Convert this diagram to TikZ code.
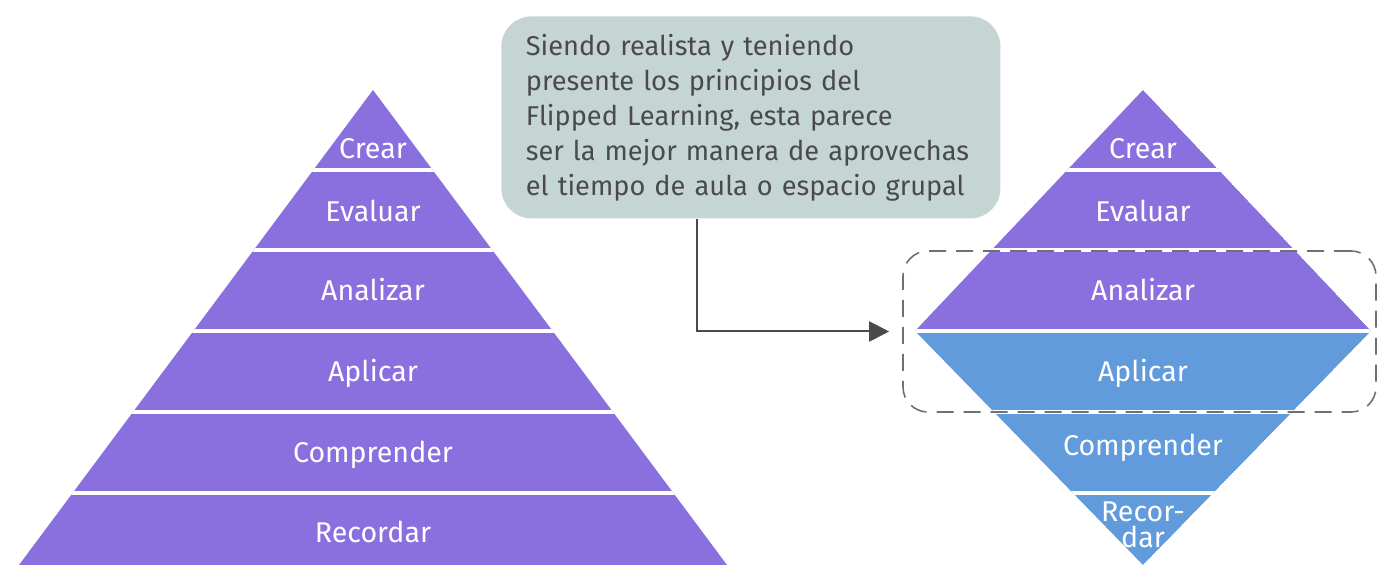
\documentclass[tikz,border=0pt]{standalone}
\usepackage{fontspec}
\setmainfont{Fira Sans}
\usetikzlibrary{arrows.meta}
\definecolor{lila}{HTML}{8A6FDF}
\definecolor{azul}{HTML}{629BDB}
\definecolor{nota}{HTML}{C5D5D3}
\definecolor{tinta}{HTML}{4A4A4A}
\definecolor{raya}{HTML}{707070}

\begin{document}
\begin{tikzpicture}[x=0.5pt, y=-0.5pt,
    capa/.style={text=white, font=\fontsize{14.3}{13}\selectfont},
    sep/.style={white, line width=2pt},
    notabox/.style={fill=nota, rounded corners=15pt, text=tinta, align=left,
        text width=225pt, inner xsep=12.25pt, minimum height=101pt,
        font=\fontsize{13.6}{17.5}\selectfont},
    foco/.style={draw=raya, line width=0.8pt, dash pattern=on 8.5pt off 5pt,
        rounded corners=12.5pt, inner sep=0pt, minimum width=236.5pt, minimum height=80.5pt},
    flecha/.style={draw=tinta, line width=1pt, -{Triangle[length=10pt,width=10pt]}}]
        \useasboundingbox (0,0) rectangle (1378,565);
        \coordinate (LA) at (373, 90);
        \coordinate (LB) at ( 19,565);
        \coordinate (LC) at (727,565);
        \coordinate (RA) at (1143, 90);
        \coordinate (RL) at ( 915,331);
        \coordinate (RR) at (1371,331);
        \coordinate (RB) at (1143,565);
        %
        \begin{scope}
            \clip (LA) -- (LC) -- (LB) -- cycle;
            \fill[lila] (0,0) rectangle (760,565);
            \foreach \y in {170,250,331,412,493}
                \draw[sep] (0,\y) -- (760,\y);
        \end{scope}
        \begin{scope}
            \clip (RA) -- (RR) -- (RB) -- (RL) -- cycle;
            \fill[lila] (RA) -- (RR) -- (RL) -- cycle;
            \fill[azul] (RL) -- (RR) -- (RB) -- cycle;
            \foreach \y in {170,250,331,412,493}
                \draw[sep] (900,\y) -- (1378,\y);
        \end{scope}
        %
        \node[capa] (crear)      at (373,149) {Crear};
        \node[capa] (evaluar)    at (373,211) {Evaluar};
        \node[capa] (analizar)   at (373,290) {Analizar};
        \node[capa] (aplicar)    at (373,373) {Aplicar};
        \node[capa] (comprender) at (373,455) {Comprender};
        \node[capa] (recordar)   at (373,532) {Recordar};
        \node[capa] (crear2)      at (1143,149) {Crear};
        \node[capa] (evaluar2)    at (1143,211) {Evaluar};
        \node[capa] (analizar2)   at (1143,290) {Analizar};
        \node[capa] (aplicar2)    at (1143,373) {Aplicar};
        \node[capa] (comprender2) at (1143,448) {Comprender};
        \node[capa, align=center] (recordar2) at (1143,525) {Recor-\\dar};
        %
        \node[notabox, anchor=north west] (nota) at (501,16)
            {Siendo realista y teniendo\\
             presente los principios del\\
             Flipped Learning, esta parece\\
             ser la mejor manera de aprovechas\\
             el tiempo de aula o espacio grupal};
        \node[foco] (zona) at (1139.5,331.5) {};
        \coordinate (bajada) at (697,0);
        \draw[flecha] (nota.south -| bajada) |- ([xshift=-6.5pt]zona.west);
    \end{tikzpicture}
\end{document}
